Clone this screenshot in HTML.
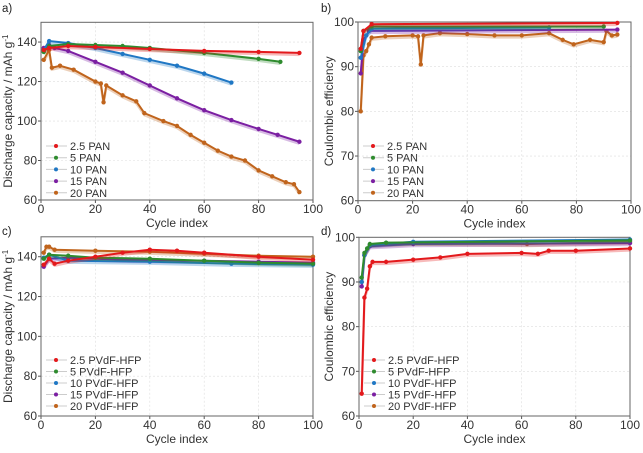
<!DOCTYPE html>
<html><head><meta charset="utf-8"><style>
body{margin:0;background:#fff;}
svg{display:block;font-family:"Liberation Sans",sans-serif;}
</style></head><body>
<svg id="fig" width="643" height="453" viewBox="0 0 643 453"></svg>
<script>
const colors=['#e3191c','#2e8b2e','#1f77c4','#7b1fa2','#c0641c'];
const capA_x=[[1,3,10,20,40,60,80,95],[1,3,10,20,30,40,60,80,88],[1,3,10,20,30,40,50,60,70],[1,3,5,10,20,30,40,50,60,70,80,87,95],[1,3,4,7,12,20,22,23,24,30,35,38,45,50,55,60,65,70,75,80,85,90,93,95]];
const capA_y=[[136,137,138,137.5,136.5,135.5,135,134.5],[135,138,139,138.5,138,137,134.5,131.5,130],[136,140.5,139.5,137,134,131,128,124,119.5],[137,138.5,137,135.5,130,124.5,118,111.5,105.5,100.5,96,93,89.5],[131,136,127,128,126,120,119,109.5,118,113,110,104,100,97.5,93,89,85,82,80,75,72,69,68,64]];
const ceB_x=[[1,2,5,95],[1,2,5,90],[1,3,5,70],[1,2,4,95],[1,2,3,4,5,10,20,22,23,24,30,40,50,60,70,75,79,85,90,91,93,95]];
const ceB_y=[[94,98,99.5,99.8],[93.5,98,99,99],[92,97,98.5,98.8],[88.5,96,98,98.3],[80,92.5,93.5,95,96.5,96.8,97,96.8,90.5,97,97.5,97.3,97,97,97.5,96,95,96,95.5,98,97,97.2]];
const capC_x=[[1,3,5,10,20,30,40,50,60,80,100],[1,3,10,20,40,60,80,100],[1,3,10,40,70,100],[1,3,10,30,60,80,100],[1,2,3,5,20,40,60,80,100]];
const capC_y=[[136,139,136.5,138,140,142,143.5,143,142,140,138.5],[139,141,140.5,139.5,139,138,137,136.5],[139.5,141,138,137.5,136.5,136],[135,139,139.5,138.5,138,137.5,137],[142,145,145,143.5,143,142.5,141.5,140.5,140]];
const ceD_x=[[1,2,3,4,5,10,20,30,40,60,66,70,80,100],[1,2,3,4,10,100],[1,2,4,20,100],[1,2,4,20,100],[1,2,4,20,62,100]];
const ceD_y=[[65,86.5,88.5,93.5,94.5,94.5,95,95.5,96.3,96.5,96.3,97,97,97.5],[91,96.5,97.5,98.5,98.8,99.3],[90,96,98.3,99,99.5],[89,96,98,98.5,98.7],[90,96,98.3,98.8,98.5,99]];
const xTicks=[0,20,40,60,80,100];
const capTicks=[60,80,100,120,140];
const ceTicks=[60,70,80,90,100];
const panLabels=['2.5 PAN','5 PAN','10 PAN','15 PAN','20 PAN'];
const hfpLabels=['2.5 PVdF-HFP','5 PVdF-HFP','10 PVdF-HFP','15 PVdF-HFP','20 PVdF-HFP'];
const NS='http://www.w3.org/2000/svg';
const svg=document.getElementById('fig');
function mk(t,a,p){const e=document.createElementNS(NS,t);for(const k in a)e.setAttribute(k,a[k]);(p||svg).appendChild(e);return e;}
function panel(o){
  const g=mk('g',{});
  
  
  const X=v=>o.l+(v-0)/100*(o.r-o.l);
  const Y=v=>o.b-(v-o.ymin)/(o.ymax-o.ymin)*(o.b-o.t);
  xTicks.forEach(v=>{mk('line',{x1:X(v),x2:X(v),y1:o.t,y2:o.b,stroke:'#ddd','stroke-dasharray':'2,2','stroke-width':0.6},g);
    const t=mk('text',{x:X(v),y:o.b+13,'text-anchor':'middle','font-size':12,fill:'#333'},g);t.textContent=v;
    mk('line',{x1:X(v),x2:X(v),y1:o.b,y2:o.b+3,stroke:'#555'},g);});
  o.ticks.forEach(v=>{mk('line',{x1:o.l,x2:o.r,y1:Y(v),y2:Y(v),stroke:'#ddd','stroke-dasharray':'2,2','stroke-width':0.6},g);
    const t=mk('text',{x:o.l-4,y:Y(v)+4,'text-anchor':'end','font-size':12,fill:'#333'},g);t.textContent=v;
    mk('line',{x1:o.l-3,x2:o.l,y1:Y(v),y2:Y(v),stroke:'#555'},g);});
  mk('rect',{x:o.l,y:o.t,width:o.r-o.l,height:o.b-o.t,fill:'none',stroke:'#666','stroke-width':1},g);
  for(let s=4;s>=0;s--){
    const xs=o.xs[s],ys=o.ys[s];
    const pts=xs.map((x,i)=>X(x)+','+Y(ys[i])).join(' ');
    const sh=mk('polyline',{points:xs.map((x,i)=>X(x)+','+(Y(ys[i])+2)).join(' '),fill:'none',stroke:colors[s],'stroke-opacity':0.3,'stroke-width':2.4},g);
    
    
    const pl=mk('polyline',{points:pts,fill:'none',stroke:colors[s],'stroke-width':2},g);
    
    
    xs.forEach((x,i)=>{const c=mk('circle',{cx:X(x),cy:Y(ys[i]),r:2.2,fill:colors[s]},g);
      
      });
  }
  o.labels.forEach((lb,i)=>{const y=o.legY+i*o.legD;
    mk('line',{x1:o.l+5,x2:o.l+26,y1:y,y2:y,stroke:'#ccc','stroke-width':1},g);
    mk('circle',{cx:o.l+15,cy:y,r:2,fill:colors[i]},g);
    const t=mk('text',{x:o.l+29,y:y+4,'font-size':11,fill:'#333'},g);t.textContent=lb;
    
    });
  const xt=mk('text',{x:(o.l+o.r)/2,y:o.b+27,'text-anchor':'middle','font-size':12,fill:'#333'},g);xt.textContent='Cycle index';
  
  
  const yt=mk('text',{x:0,y:0,'text-anchor':'middle','font-size':12,fill:'#333',transform:`translate(${o.yx},${(o.t+o.b)/2}) rotate(-90)`},g);
  yt.innerHTML=o.ytitle;
  
  
  const pl=mk('text',{x:o.px,y:o.py,'font-size':11.5,fill:'#222'},g);pl.textContent=o.tag;
  
  
}
const capT='Discharge capacity / mAh g<tspan dy="-4" font-size="8">-1</tspan>';
panel({name:'panel-a',l:41,r:313,t:22.3,b:200,ymin:60,ymax:150,ticks:capTicks,xs:capA_x,ys:capA_y,labels:panLabels,legY:146,legD:11.7,yx:12,ytitle:capT,tag:'a)',px:2,py:12});
panel({name:'panel-b',l:358,r:631,t:22,b:200.7,ymin:60,ymax:100,ticks:ceTicks,xs:ceB_x,ys:ceB_y,labels:panLabels,legY:146,legD:11.7,yx:333,ytitle:'Coulombic efficiency',tag:'b)',px:321,py:12});
panel({name:'panel-c',l:41,r:313,t:236.8,b:416,ymin:60,ymax:150,ticks:capTicks,xs:capC_x,ys:capC_y,labels:hfpLabels,legY:360,legD:11.5,yx:12,ytitle:capT,tag:'c)',px:2,py:235});
panel({name:'panel-d',l:359,r:630,t:237.3,b:416,ymin:60,ymax:100,ticks:ceTicks,xs:ceD_x,ys:ceD_y,labels:hfpLabels,legY:360,legD:11.5,yx:333,ytitle:'Coulombic efficiency',tag:'d)',px:321,py:235});
</script>
</body></html>
